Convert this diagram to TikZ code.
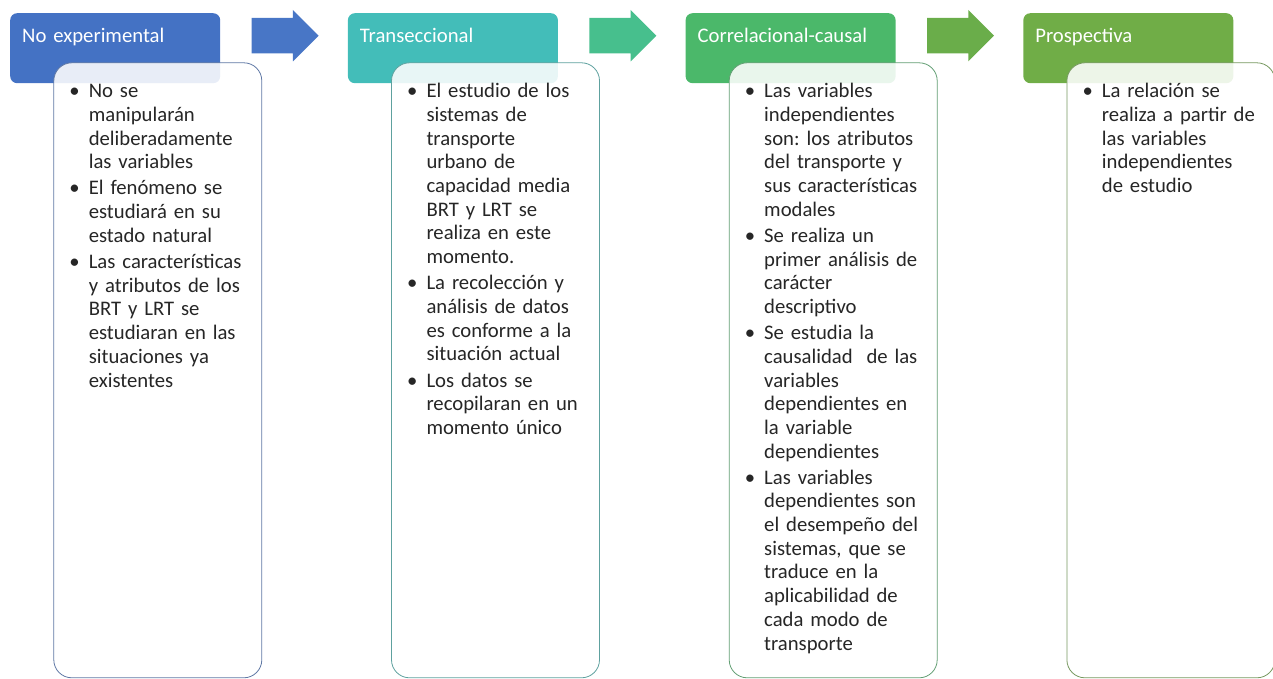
\documentclass[tikz,border=0pt]{standalone}
\usepackage{fontspec}
\setmainfont{Carlito}
\usetikzlibrary{positioning,shapes.arrows}

\definecolor{azul}{HTML}{4472C4}
\definecolor{turquesa}{HTML}{43BDB9}
\definecolor{verde}{HTML}{4BB86A}
\definecolor{oliva}{HTML}{70AD47}
\definecolor{flechauno}{HTML}{4876C6}
\definecolor{flechados}{HTML}{47BF8D}
\definecolor{flechatres}{HTML}{6AAD4A}
\definecolor{texto}{HTML}{262626}

\frenchspacing
\newcommand{\primer}{\hangindent=22pt\hangafter=1\makebox[22pt][l]{\hspace{2.6pt}\textbullet}}
\newcommand{\punto}{\par\vspace{2.4pt}\primer}

\begin{document}
\begin{tikzpicture}[x=1pt,y=1pt,
    encabezado/.style={rectangle, rounded corners=7pt, fill=#1, text=white,
      inner xsep=12pt, inner ysep=0pt, text width=186pt, align=left,
      text height=29pt, text depth=41pt, font=\fontsize{20.7}{24}\selectfont},
    cuerpo/.style={rectangle, rounded corners=18pt, draw=#1!55!gray, line width=0.8pt,
      fill=white, fill opacity=0.88, text opacity=1, text=texto,
      inner xsep=13pt, inner ysep=0pt, text width=182pt, align=left,
      text height=35pt, text depth=580pt, font=\fontsize{20.7}{23.7}\selectfont\frenchspacing},
    flecha/.style={single arrow, fill=#1, inner sep=0pt, minimum height=67pt,
      text height=17.5pt, text depth=17.5pt, single arrow head extend=8pt}]
    \useasboundingbox (0,0) rectangle (1273,-679);
    \node[encabezado=azul, anchor=north west] (h1) at (10,-13) {No experimental};
      \node[encabezado=turquesa, right=127.3pt of h1] (h2) {Transeccional};
      \node[encabezado=verde, right=127.3pt of h2] (h3) {Correlacional-causal};
      \node[encabezado=oliva, right=127.3pt of h3] (h4) {Prospectiva};
      \node[flecha=flechauno, right=31pt of h1, yshift=12.5pt] (f1) {};
      \node[flecha=flechados, right=31pt of h2, yshift=12.5pt] (f2) {};
      \node[flecha=flechatres, right=31pt of h3, yshift=12.5pt] (f3) {};
      \node[cuerpo=azul, below right=-21pt and -167pt of h1] (c1) {%
        \primer No se\newline manipularán\newline deliberadamente\newline las variables
        \punto El fenómeno se\newline estudiará en su\newline estado natural
        \punto Las características\newline y atributos de los\newline BRT y LRT se\newline estudiaran en las\newline situaciones ya\newline existentes\par};
      \node[cuerpo=turquesa, below right=-21pt and -167pt of h2] (c2) {%
        \primer El estudio de los\newline sistemas de\newline transporte\newline urbano de\newline capacidad media\newline BRT y LRT se\newline realiza en este\newline momento.
        \punto La recolección y\newline análisis de datos\newline es conforme a la\newline situación actual
        \punto Los datos se\newline recopilaran en un\newline momento único\par};
      \node[cuerpo=verde, below right=-21pt and -167pt of h3] (c3) {%
        \primer Las variables\newline independientes\newline son: los atributos\newline del transporte y\newline sus características\newline modales
        \punto Se realiza un\newline primer análisis de\newline carácter\newline descriptivo
        \punto Se estudia la\newline causalidad\ \ de las\newline variables\newline dependientes en\newline la variable\newline dependientes
        \punto Las variables\newline dependientes son\newline el desempeño del\newline sistemas, que se\newline traduce en la\newline aplicabilidad de\newline cada modo de\newline transporte\par};
      \node[cuerpo=oliva, below right=-21pt and -167pt of h4] (c4) {%
        \primer La relación se\newline realiza a partir de\newline las variables\newline independientes\newline de estudio\par};
    \end{tikzpicture}
\end{document}
